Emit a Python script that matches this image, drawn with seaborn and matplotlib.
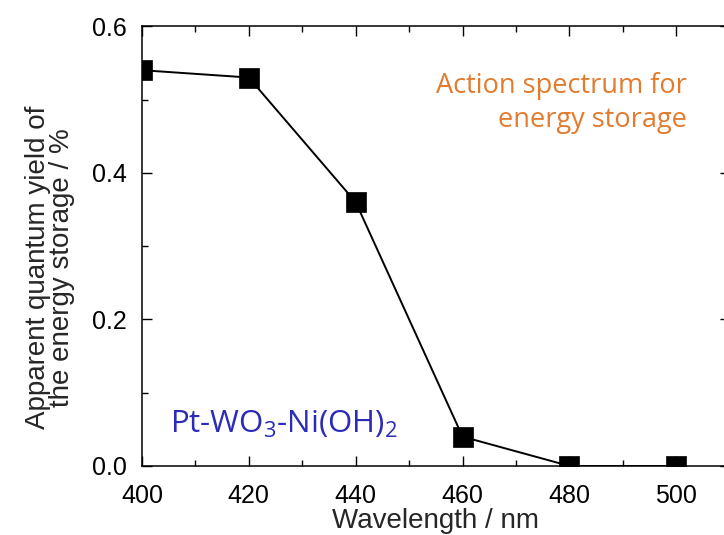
import numpy as np
import matplotlib
matplotlib.use("Agg")
import matplotlib.pyplot as plt
import seaborn as sns
from matplotlib.ticker import MultipleLocator, FormatStrFormatter

# ===== DATA =====
wavelength = [400, 420, 440, 460, 480, 500]
qy = [0.54, 0.53, 0.36, 0.04, 0.0, 0.0]

sns.set_style("ticks")
plt.rcParams['font.family'] = ['Liberation Sans', 'DejaVu Sans']
plt.rcParams['mathtext.fontset'] = 'custom'
plt.rcParams['mathtext.rm'] = 'Open Sans'

fig = plt.figure(figsize=(7.24, 5.35), dpi=100)
# axes run a little past the right edge, like the cropped original
ax = fig.add_axes([0.196, 0.129, 0.812, 0.822])

sns.lineplot(x=wavelength, y=qy, ax=ax, color='black', lw=1.4,
             marker='s', markersize=14, markerfacecolor='black',
             markeredgecolor='black', markeredgewidth=0.5, zorder=3)

ax.set_xlim(400, 510)
ax.set_ylim(0, 0.6)
ax.xaxis.set_major_locator(MultipleLocator(20))
ax.xaxis.set_minor_locator(MultipleLocator(10))
ax.yaxis.set_major_locator(MultipleLocator(0.2))
ax.yaxis.set_minor_locator(MultipleLocator(0.1))
ax.yaxis.set_major_formatter(FormatStrFormatter('%.1f'))
ax.tick_params(which='both', direction='in', top=True, right=True,
               labelsize=18, width=1, pad=11, colors='black')
ax.tick_params(axis='x', which='both', pad=13)
ax.tick_params(which='major', length=7)
ax.tick_params(which='minor', length=4)
for s in ax.spines.values():
    s.set_linewidth(1.1)
    s.set_color('black')

ax.set_xlabel('Wavelength / nm', fontsize=20, labelpad=0)
ax.set_ylabel('Apparent quantum yield of\nthe energy storage / %', fontsize=20,
              linespacing=0.9, labelpad=12)
ax.yaxis.label.set_y(0.452)

ax.text(0.927, 0.825, 'Action spectrum for\nenergy storage', transform=ax.transAxes,
        ha='right', va='center', fontsize=19.5, color='#E27B2E',
        family='Open Sans', multialignment='right', linespacing=1.3)
ax.text(0.048, 0.075, r'Pt-WO$_3$-Ni(OH)$_2$', transform=ax.transAxes,
        ha='left', va='baseline', fontsize=22.5, color='#2B2BB8', family='Open Sans')

fig.savefig('out.png', dpi=100)
